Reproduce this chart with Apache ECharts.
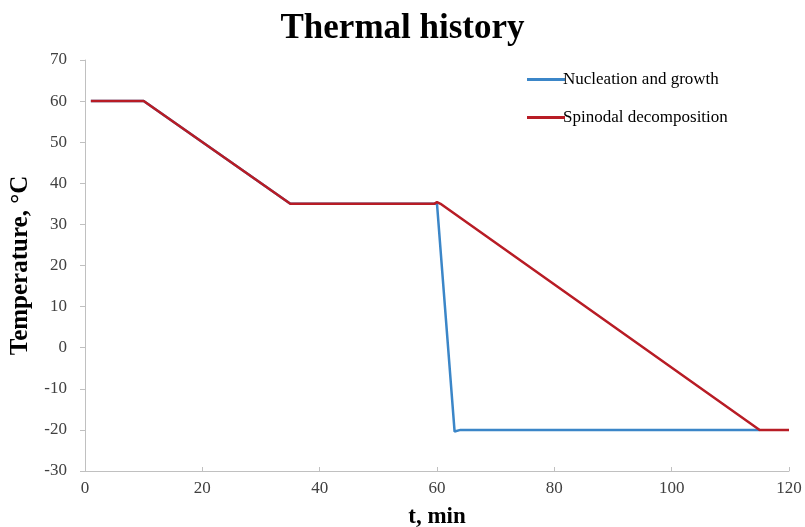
<!DOCTYPE html>
<html>
<head>
<meta charset="utf-8">
<script src="https://cdn.jsdelivr.net/npm/echarts@6/dist/echarts.min.js"></script>
<style>
  html, body { margin: 0; padding: 0; background: #fff; }
  #chart { width: 805px; height: 527px; }
</style>
</head>
<body>
<div id="chart"></div>
<script>
// 数据
const seriesNames = ["Nucleation and growth", "Spinodal decomposition"];
const nucleation = [[1, 60], [10, 60], [35, 35], [60, 35], [63, -20.4], [64, -20], [115, -20]];
const spinodal = [[1, 60], [10, 60], [35, 35], [59.5, 35], [60, 35.4], [60.6, 35], [115, -20], [120, -20]];

const myChart = echarts.init(document.getElementById("chart"));
const serif = "'Liberation Serif', 'Times New Roman', serif";

const options = {
  animation: false,
  title: {
    text: "Thermal history",
    left: "center",
    top: 6,
    textStyle: { fontFamily: serif, fontSize: 35, fontWeight: "bold", color: "#000" },
  },
  legend: {
    orient: "vertical",
    left: 522,
    top: 66,
    itemGap: 21,
    itemWidth: 38,
    itemHeight: 3,
    icon: "rect",
    data: seriesNames,
    textStyle: { fontFamily: serif, fontSize: 17, color: "#000", padding: [0, 0, 0, -7] },
  },
  grid: { left: 85, right: 16, top: 60, bottom: 56, outerBoundsMode: "none", containLabel: false },
  xAxis: {
    type: "value",
    min: 0,
    max: 120,
    interval: 20,
    name: "t, min",
    nameLocation: "middle",
    nameGap: 35,
    nameTextStyle: { fontFamily: serif, fontSize: 23, fontWeight: "bold", color: "#000" },
    axisLine: { show: true, onZero: false, lineStyle: { color: "#c0c0c0", width: 1 } },
    axisTick: { show: true, inside: true, length: 4, lineStyle: { color: "#c0c0c0" } },
    axisLabel: { fontFamily: serif, fontSize: 17, color: "#404040", margin: 9 },
    splitLine: { show: false },
  },
  yAxis: {
    type: "value",
    min: -30,
    max: 70,
    interval: 10,
    name: "Temperature, °C",
    nameLocation: "middle",
    nameGap: 49,
    nameTextStyle: { fontFamily: serif, fontSize: 25, fontWeight: "bold", color: "#000" },
    axisLine: { show: true, onZero: false, lineStyle: { color: "#c0c0c0", width: 1 } },
    axisTick: { show: true, length: 5, lineStyle: { color: "#c0c0c0" } },
    axisLabel: { fontFamily: serif, fontSize: 17, color: "#404040", margin: 18 },
    splitLine: { show: false },
  },
  series: [
    {
      name: seriesNames[0],
      type: "line",
      data: nucleation,
      showSymbol: false,
      z: 2,
      lineStyle: { color: "#3b86c8", width: 2.5 },
      itemStyle: { color: "#3b86c8" },
    },
    {
      name: seriesNames[1],
      type: "line",
      data: spinodal,
      showSymbol: false,
      z: 3,
      lineStyle: { color: "#b81c25", width: 2.5 },
      itemStyle: { color: "#b81c25" },
    },
  ],
};
myChart.setOption(options);
</script>
</body>
</html>
